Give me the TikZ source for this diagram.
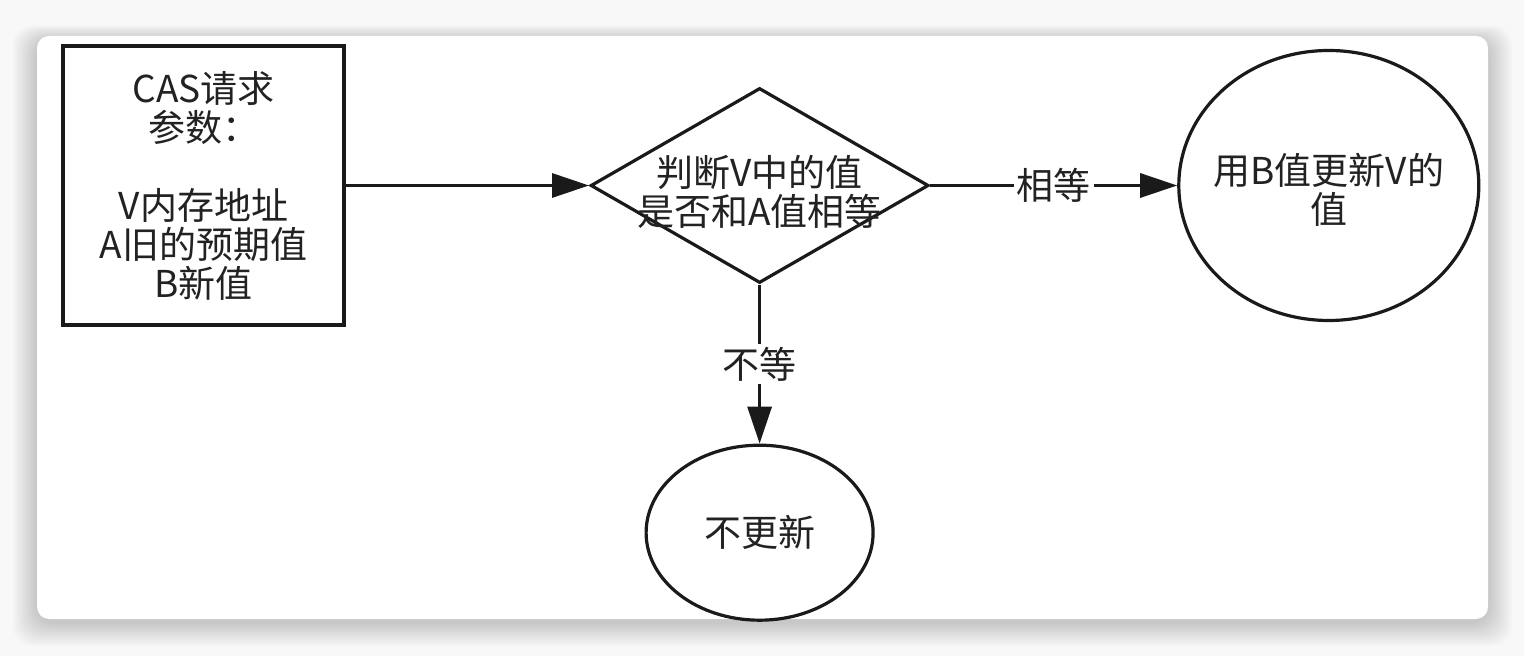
\documentclass[tikz,border=0pt]{standalone}
\usepackage{fontspec}
\setmainfont{Noto Sans CJK SC}
\usetikzlibrary{arrows.meta,positioning,shapes.geometric}
\definecolor{Ink}{HTML}{1A1A1A}
\definecolor{TextGray}{HTML}{222222}
\definecolor{PageGray}{HTML}{F8F8F8}

\begin{document}
\begin{tikzpicture}[x=0.5pt,y=-0.5pt,
    every node/.style={font=\fontsize{18.5pt}{19.5pt}\selectfont,text=TextGray},
    frame/.style={draw=Ink,line width=2pt,minimum width=140.5pt,minimum height=139.5pt,
                  align=center,inner sep=0pt},
    test/.style={diamond,draw=Ink,line width=1.6pt,minimum width=169pt,minimum height=97.5pt,
                 inner sep=0pt},
    term/.style={ellipse,draw=Ink,line width=1.6pt,align=center,inner sep=0pt},
    arr/.style={-{Triangle[length=18.5pt,width=12pt]},line width=1.6pt,Ink},
    tag/.style={fill=white,inner sep=1.5pt}]
  % page, shadow and card
  \fill[PageGray] (0,0) rectangle (1524,656);
  \foreach \s in {2,4,...,24}
    \fill[black,opacity=0.016,rounded corners=10pt] (37-\s,40-0.6*\s) rectangle (1488+\s,622+\s);
  \fill[white,rounded corners=6pt] (37,36) rectangle (1488,619);

  \node[frame] (req) at (203.5,185.5) {CAS请求\\参数：\\[19.5pt]V内存地址\\A旧的预期值\\B新值};
  \node[test,right=121.5pt of req,
        label={[align=center,yshift=-3pt]center:判断V中的值\\是否和A值相等}] (judge) {};
  \node[term,right=123.5pt of judge,minimum width=150pt,minimum height=135pt,
        label={[align=center,yshift=-2pt]center:用B值更新V的\\值}] (upd) {};
  \node[term,below=79.5pt of judge,minimum width=113.5pt,minimum height=87.5pt] (keep) {不更新};

  \draw[arr] (req) -- (judge);
  \draw[arr] (judge) -- node[tag] {相等} (upd);
  \draw[arr] (judge) -- node[tag] {不等} (keep);
\end{tikzpicture}
\end{document}
